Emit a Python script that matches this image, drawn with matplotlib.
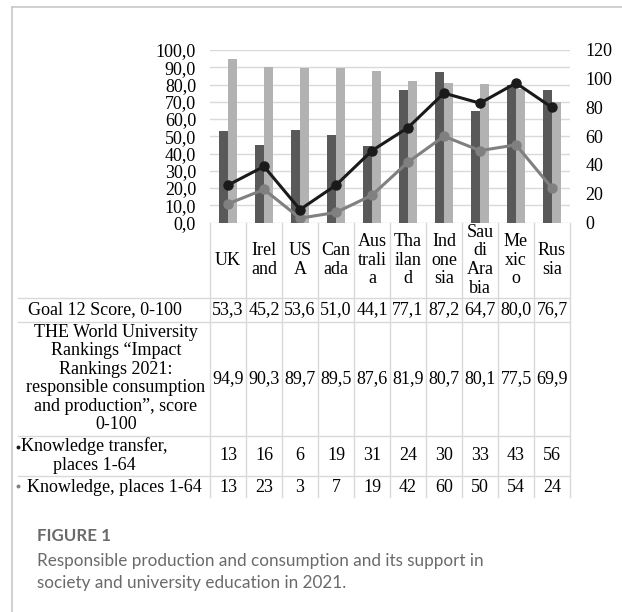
import numpy as np
import matplotlib.pyplot as plt
import matplotlib.transforms as mtransforms
from matplotlib.patches import Rectangle

# Data
countries = ["UK", "Ireland", "USA", "Canada", "Australia", "Thailand",
             "Indonesia", "Saudi Arabia", "Mexico", "Russia"]
# names as they wrap inside the narrow table columns
country_labels = ["UK", "Irel\nand", "US\nA", "Can\nada", "Aus\ntrali\na",
                  "Tha\nilan\nd", "Ind\none\nsia", "Sau\ndi\nAra\nbia",
                  "Me\nxic\no", "Rus\nsia"]
goal12 = [53.3, 45.2, 53.6, 51.0, 44.1, 77.1, 87.2, 64.7, 80.0, 76.7]
the_score = [94.9, 90.3, 89.7, 89.5, 87.6, 81.9, 80.7, 80.1, 77.5, 69.9]
knowledge_transfer = [13, 16, 6, 19, 31, 24, 30, 33, 43, 56]
knowledge = [13, 23, 3, 7, 19, 42, 60, 50, 54, 24]

row_labels = [
    "Goal 12 Score, 0-100",
    "THE World University\nRankings \u201cImpact\nRankings 2021:\n"
    "responsible consumption\nand production\u201d, score\n0-100",
    "Knowledge transfer,\nplaces 1-64",
    "Knowledge, places 1-64",
]

def comma(v):
    return f"{v:.1f}".replace(".", ",")

# Layout in pixels (figure is 622 x 612)
W, H = 622, 612
PLOT_L, PLOT_R = 210, 570
PLOT_T, PLOT_B = 50, 222.5
ROW_EDGES = [PLOT_B, 298, 321.5, 435.5, 475.5]
TABLE_END = 497
GRID = "#d9d9d9"
DARK, LIGHT = "#595959", "#b2b2b2"

plt.rcParams["font.family"] = ["Liberation Serif", "DejaVu Serif"]
FS = 13
LS = 1.12

fig = plt.figure(figsize=(W / 100, H / 100), dpi=100)

# full-figure pixel canvas for the data table, frame and caption
canvas = fig.add_axes([0, 0, 1, 1])
canvas.set_xlim(0, W)
canvas.set_ylim(H, 0)
canvas.axis("off")

ax = fig.add_axes([PLOT_L / W, 1 - PLOT_B / H,
                   (PLOT_R - PLOT_L) / W, (PLOT_B - PLOT_T) / H])
ax.set_facecolor("none")
x = np.arange(len(countries))
bw = 0.235
ax.bar(x - 0.122, goal12, bw, color=DARK, zorder=2)
ax.bar(x + 0.122, the_score, bw, color=LIGHT, zorder=2)
ax.set_xlim(-0.5, len(countries) - 0.5)
ax.set_ylim(0, 100)
ax.set_yticks(np.arange(0, 101, 10))
ax.set_yticklabels([comma(v) for v in np.arange(0, 101, 10)], fontsize=FS)
ax.set_xticks([])
ax.tick_params(axis="y", length=0, pad=10)
ax.grid(axis="y", color=GRID, lw=1, zorder=0)
for s in ax.spines.values():
    s.set_visible(False)

# stacked lines on the secondary axis
ax2 = ax.twinx()
ax2.plot(x, knowledge, color="#808080", lw=2.2, marker="o", ms=6.5, zorder=3)
ax2.plot(x, np.add(knowledge, knowledge_transfer), color="#1a1a1a", lw=2.2,
         marker="o", ms=6.5, zorder=4)
ax2.set_ylim(0, 120)
ax2.set_yticks(np.arange(0, 121, 20))
ax2.set_yticklabels([str(v) for v in np.arange(0, 121, 20)], fontsize=FS)
ax2.tick_params(axis="y", length=0, pad=11)
for s in ax2.spines.values():
    s.set_visible(False)

# data table below the plot: columns follow the category axis
tr = mtransforms.blended_transform_factory(ax.transData, canvas.transData)
clip = Rectangle((0, 0), W, TABLE_END, transform=canvas.transData)

for edge in np.arange(len(countries) + 1) - 0.5:
    canvas.plot([edge, edge], [PLOT_B, TABLE_END], color=GRID, lw=1,
                transform=tr)
for y in ROW_EDGES[1:]:
    canvas.plot([18, PLOT_R], [y, y], color=GRID, lw=1)

centers = [(a + b) / 2 for a, b in zip(ROW_EDGES, ROW_EDGES[1:] + [TABLE_END])]
centers[-1] = 487

for xi, lab in zip(x, country_labels):
    canvas.text(xi, centers[0], lab, transform=tr, ha="center", va="center",
                fontsize=FS, linespacing=LS)

table_rows = [
    [comma(v) for v in goal12],
    [comma(v) for v in the_score],
    [str(v) for v in knowledge_transfer],
    [str(v) for v in knowledge],
]
label_x = [105, 116, 94, 114]
for r, (cells, lab, lx) in enumerate(zip(table_rows, row_labels, label_x)):
    cy = centers[r + 1]
    t = canvas.text(lx, cy, lab, ha="center", va="center", fontsize=FS,
                    linespacing=LS)
    t.set_clip_path(clip)
    for xi, c in zip(x, cells):
        t = canvas.text(xi, cy, c, transform=tr, ha="center", va="center",
                        fontsize=FS)
        t.set_clip_path(clip)

# tiny legend keys next to the line-series rows
canvas.plot([18], [447], marker="o", ms=1.8, color="#1a1a1a")
canvas.plot([18], [486], marker="o", ms=1.8, color="#808080")

# page frame and caption
canvas.plot([12, W], [7, 7], color="#c8c8c8", lw=1.2)
canvas.plot([12, 12], [7, H], color="#c8c8c8", lw=1.2)
canvas.text(37, 536, "FIGURE 1", fontsize=12.2, fontweight="bold",
            color="#6a6a6a", family="Lato", va="center")
canvas.text(37, 572,
            "Responsible production and consumption and its support in\n"
            "society and university education in 2021.",
            fontsize=12.3, color="#6a6a6a", family="Lato", va="center",
            linespacing=1.4)

fig.savefig("out.png", dpi=100)
